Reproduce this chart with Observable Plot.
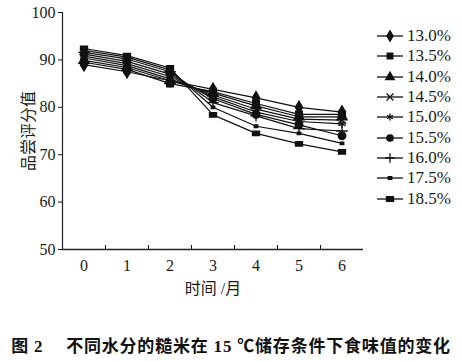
<!DOCTYPE html>
<html>
<head>
<meta charset="utf-8">
<script src="https://cdn.jsdelivr.net/npm/d3@7"></script>
<script src="https://cdn.jsdelivr.net/npm/@observablehq/plot@0.6"></script>
<style>
  html, body { margin: 0; padding: 0; background: #fff; }
  #wrap { position: relative; width: 462px; height: 361px; overflow: hidden; }
  #legend { position: absolute; left: 377px; top: 26px; font-family: "Liberation Serif", serif; font-size: 17px; color: #1a1a1a; }
  .row { height: 20.3px; display: flex; align-items: center; }
  .row svg { margin-right: 4px; }
  #caption { position: absolute; left: 0; top: 337px; width: 462px; text-align: center; line-height: 20px;
    font-family: "Liberation Serif", "Noto Sans CJK SC", serif; font-weight: bold; font-size: 17px; letter-spacing: 0.8px; white-space: pre; color: #111; }
</style>
</head>
<body>
<div id="wrap">
  <div id="chart"></div>
  <div id="legend"></div>
  <div id="caption">图 2　 不同水分的糙米在 15 ℃储存条件下食味值的变化</div>
</div>
<script>
// ---- data ----
const months = [0, 1, 2, 3, 4, 5, 6];
const seriesNames = ["13.0%", "13.5%", "14.0%", "14.5%", "15.0%", "15.5%", "16.0%", "17.5%", "18.5%"];
const s130 = [89.0, 87.5, 85.6, 83.8, 82.0, 80.0, 79.0];
const s135 = [89.5, 88.0, 85.0, 83.3, 80.8, 78.5, 78.5];
const s140 = [89.9, 88.4, 85.6, 83.0, 80.3, 78.0, 78.0];
const s145 = [90.4, 88.8, 86.0, 82.6, 79.6, 77.5, 77.3];
const s150 = [90.8, 89.2, 86.5, 82.2, 79.0, 77.0, 76.5];
const s155 = [91.2, 89.7, 87.0, 81.8, 78.5, 76.3, 74.0];
const s160 = [91.6, 90.2, 87.5, 81.0, 78.2, 75.5, 75.0];
const s175 = [92.0, 90.6, 87.9, 80.0, 76.0, 74.5, 72.4];
const s185 = [92.4, 90.9, 88.3, 78.4, 74.5, 72.3, 70.6];
const seriesValues = [s130, s135, s140, s145, s150, s155, s160, s175, s185];
const xTicks = [0, 1, 2, 3, 4, 5, 6];
const yTicks = [50, 60, 70, 80, 90, 100];
const xLabel = "时间 /月";
const yLabel = "品尝评分值";

// ---- symbols (style) ----
function rectSymbol(w, h) {
  return { draw(ctx, size) { const k = Math.sqrt(size / 45); ctx.rect(-w * k / 2, -h * k / 2, w * k, h * k); } };
}
const symbolFor = {
  "13.0%": "diamond", "13.5%": "square", "14.0%": "triangle", "14.5%": "times",
  "15.0%": "asterisk", "15.5%": "circle", "16.0%": "plus",
  "17.5%": rectSymbol(3.5, 2.5), "18.5%": rectSymbol(7, 4.5)
};

const rows = [];
seriesNames.forEach((name, i) => {
  months.forEach((m, j) => rows.push({ series: name, month: m, value: seriesValues[i][j] }));
});

const chart = Plot.plot({
  width: 462,
  height: 305,
  marginLeft: 62,
  marginRight: 99,
  marginTop: 12,
  marginBottom: 56,
  style: { fontFamily: "'Liberation Serif', 'Noto Sans CJK SC', serif", fontSize: "16px", color: "#1a1a1a", background: "#fff" },
  x: { domain: [-0.5, 6.5] },
  y: { domain: [50, 100] },
  marks: [
    Plot.axisY({ ticks: yTicks, tickFormat: "d", tickSize: 4, tickPadding: 3, label: yLabel, labelAnchor: "center", labelOffset: 40, labelArrow: "none", fontSize: 16 }),
    Plot.axisX({ ticks: xTicks, tickFormat: "d", tickSize: 0, tickPadding: 10, label: xLabel, labelAnchor: "center", labelOffset: 44, labelArrow: "none", fontSize: 16 }),
    Plot.axisX({ ticks: d3.range(0.5, 6, 1), tickSize: -4, text: null, label: null }),
    Plot.ruleX([-0.5], { stroke: "#222", strokeWidth: 1.2 }),
    Plot.ruleY([50], { stroke: "#222", strokeWidth: 1.5 }),
    Plot.line(rows, { x: "month", y: "value", z: "series", stroke: "#111", strokeWidth: 1.2 }),
    Plot.dot(rows, { x: "month", y: "value", symbol: d => symbolFor[d.series], fill: "#111", stroke: "#111", strokeWidth: 1.3, r: 3.8 })
  ]
});
document.getElementById("chart").appendChild(chart);

// ---- legend ----
const leg = document.getElementById("legend");
const legR = 3.2;
seriesNames.forEach(name => {
  const row = document.createElement("div");
  row.className = "row";
  const s = d3.create("svg").attr("width", 26).attr("height", 14);
  s.append("line").attr("x1", 0).attr("x2", 26).attr("y1", 7).attr("y2", 7).attr("stroke", "#111").attr("stroke-width", 1.3);
  const sym = symbolFor[name];
  const type = typeof sym === "string" ? ({
    diamond: d3.symbolDiamond, square: d3.symbolSquare, triangle: d3.symbolTriangle,
    times: d3.symbolTimes, asterisk: d3.symbolAsterisk, circle: d3.symbolCircle, plus: d3.symbolPlus
  })[sym] : sym;
  s.append("path").attr("transform", "translate(13,7)").attr("d", d3.symbol(type, Math.PI * legR * legR * (typeof sym === "string" ? 1 : 1.4))())
    .attr("fill", "#111").attr("stroke", "#111").attr("stroke-width", 1.3);
  row.appendChild(s.node());
  const t = document.createElement("span");
  t.textContent = name;
  row.appendChild(t);
  leg.appendChild(row);
});
</script>
</body>
</html>
